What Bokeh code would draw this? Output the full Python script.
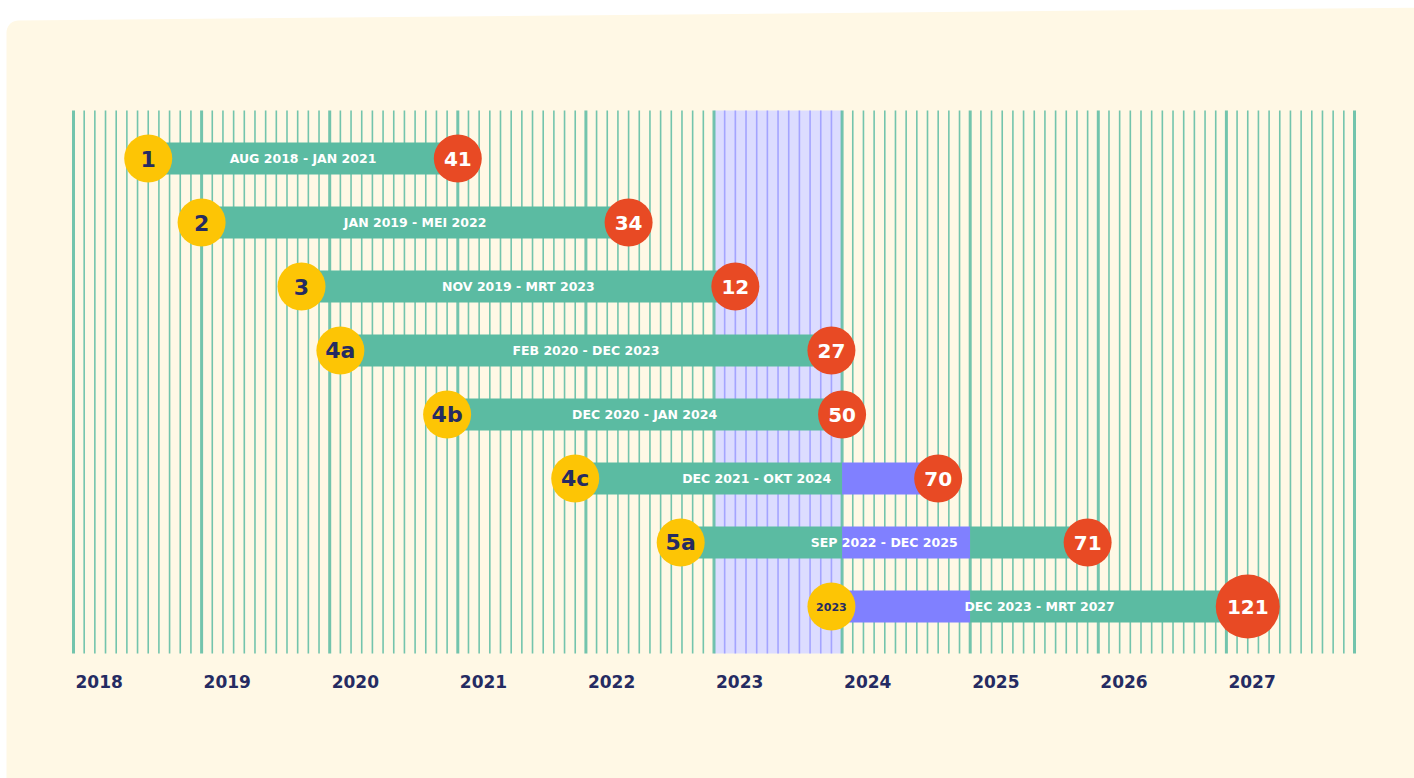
import numpy as np
from bokeh.plotting import figure
from bokeh.models import Range1d
from bokeh.core.properties import value
from bokeh.embed import file_html
from bokeh.resources import INLINE

# ---------------- data ----------------
ids = ["1", "2", "3", "4a", "4b", "4c", "5a", "2023"]
periods = ["AUG 2018 - JAN 2021", "JAN 2019 - MEI 2022", "NOV 2019 - MRT 2023",
           "FEB 2020 - DEC 2023", "DEC 2020 - JAN 2024", "DEC 2021 - OKT 2024",
           "SEP 2022 - DEC 2025", "DEC 2023 - MRT 2027"]
starts = [2018 + 7/12, 2019.0, 2019.78, 2020 + 1/12, 2020 + 11/12, 2021 + 11/12, 2022.74, 2023 + 11/12]
ends = [2021.0, 2022 + 4/12, 2023 + 2/12, 2023 + 11/12, 2024.0, 2024 + 9/12, 2025 + 11/12, 2027 + 2/12]
counts = [41, 34, 12, 27, 50, 70, 71, 121]
years = list(range(2018, 2028))
highlight = (2023, 2024)
purple_window = (2024, 2025)

# ---------------- styles ----------------
CREAM = "#fff8e5"
GREEN = "#5bbba2"
PURPLE = "#8080ff"
PURPLE_LINE = "#9a9aff"
HILITE = "#dcdcff"
YELLOW = "#fdc505"
RED = "#e84a24"
NAVY = "#252b62"
FONT = value("DejaVu Sans")

W, H = 1414, 778
PX_PER_YEAR = 128.1
X0 = 2018 - 73 / PX_PER_YEAR
ROW_PX = 64.0
ROW0_PAGE = 158.0


def row_of(page_y):
    return (page_y - ROW0_PAGE) / ROW_PX


def year_of(page_x):
    return X0 + page_x / PX_PER_YEAR


p = figure(width=W, height=H, output_backend="svg", toolbar_location=None,
           x_range=Range1d(X0, X0 + W / PX_PER_YEAR),
           y_range=Range1d(row_of(H), row_of(0)),
           min_border=0, background_fill_color="white", border_fill_color="white")
p.axis.visible = False
p.grid.visible = False
p.outline_line_color = None

# cream panel with slight tilt and rounded top-left corner
r = 12
ang = np.linspace(np.pi, np.pi / 2, 10)
cx, cy = 6 + r, 20 + r
arc_x = [cx + r * np.cos(a) for a in ang]
arc_y = [cy - r * np.sin(a) for a in ang]
px_ = [6, 6] + arc_x + [1430, 1430]
py_ = [800, cy] + arc_y + [7, 800]
p.patch([year_of(x) for x in px_], [row_of(y) for y in py_], fill_color=CREAM, line_color=None)

grid_top, grid_bot = row_of(110), row_of(653)

# highlighted year
p.quad(left=[highlight[0]], right=[highlight[1]], top=[grid_top], bottom=[grid_bot],
       fill_color=HILITE, line_color=None)

# monthly lines
months = [years[0] + m / 12 for m in range(0, 12 * len(years) + 1)]
mx, mcol, mw = [], [], []
for m, x in enumerate(months):
    mx.append(x)
    if m % 12 == 0:
        mcol.append(GREEN)
        mw.append(3)
    elif highlight[0] < x < highlight[1]:
        mcol.append(PURPLE_LINE)
        mw.append(1.6)
    else:
        mcol.append(GREEN)
        mw.append(1.6)
p.segment(x0=mx, x1=mx, y0=[grid_top] * len(mx), y1=[grid_bot] * len(mx),
          line_color=mcol, line_width=mw, line_alpha=0.85)

# bars split into green / purple segments
rows = list(range(len(ids)))
for i in rows:
    s, e = starts[i], ends[i]
    cuts = sorted(set([s, e] + [c for c in purple_window if s < c < e]))
    for a, b in zip(cuts[:-1], cuts[1:]):
        mid = (a + b) / 2
        col = PURPLE if purple_window[0] <= mid < purple_window[1] else GREEN
        p.hbar(y=[i], left=[a], right=[b], height=0.5, fill_color=col, line_color=None)

# period labels
p.text(x=[(s + e) / 2 for s, e in zip(starts, ends)], y=rows, text=periods,
       text_font=FONT, text_font_style="bold", text_font_size="12.5px",
       text_color="white", text_align="center", text_baseline="middle")

# start circles
p.scatter(x=starts, y=rows, size=48, marker="circle", fill_color=YELLOW, line_color=None)
p.text(x=starts, y=rows, text=ids, text_font=FONT, text_font_style="bold",
       text_font_size=["22px" if len(t) <= 2 else "11px" for t in ids],
       text_color=NAVY, text_align="center", text_baseline="middle")

# end circles
p.scatter(x=ends, y=rows, size=[64 if c >= 100 else 48 for c in counts], marker="circle",
          fill_color=RED, line_color=None)
p.text(x=ends, y=rows, text=[str(c) for c in counts], text_font=FONT, text_font_style="bold",
       text_font_size="20px", text_color="white", text_align="center", text_baseline="middle")

# year labels
p.text(x=[y + 2 / PX_PER_YEAR for y in years], y=[row_of(681)] * len(years),
       text=[str(y) for y in years], text_font=FONT, text_font_style="bold",
       text_font_size="17px", text_color=NAVY, text_align="left", text_baseline="middle")

open("out.html", "w").write(file_html(p, INLINE))
